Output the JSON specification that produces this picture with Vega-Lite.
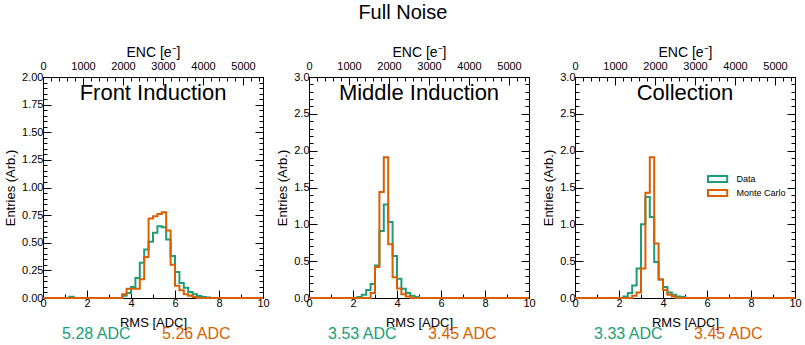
{
  "$schema": "https://vega.github.io/schema/vega-lite/v6.json",
  "datasets": {
    "front": [
      {"series": "Data", "rms": 0, "entries": 0},
      {"series": "Data", "rms": 1.2, "entries": 0.012},
      {"series": "Data", "rms": 1.4, "entries": 0},
      {"series": "Data", "rms": 3.6, "entries": 0.02},
      {"series": "Data", "rms": 3.8, "entries": 0.045},
      {"series": "Data", "rms": 4.0, "entries": 0.10},
      {"series": "Data", "rms": 4.2, "entries": 0.18},
      {"series": "Data", "rms": 4.4, "entries": 0.32},
      {"series": "Data", "rms": 4.6, "entries": 0.44},
      {"series": "Data", "rms": 4.8, "entries": 0.51},
      {"series": "Data", "rms": 5.0, "entries": 0.59},
      {"series": "Data", "rms": 5.2, "entries": 0.65},
      {"series": "Data", "rms": 5.4, "entries": 0.64},
      {"series": "Data", "rms": 5.6, "entries": 0.53},
      {"series": "Data", "rms": 5.8, "entries": 0.38},
      {"series": "Data", "rms": 6.0, "entries": 0.235},
      {"series": "Data", "rms": 6.2, "entries": 0.135},
      {"series": "Data", "rms": 6.4, "entries": 0.093},
      {"series": "Data", "rms": 6.6, "entries": 0.054},
      {"series": "Data", "rms": 6.8, "entries": 0.033},
      {"series": "Data", "rms": 7.0, "entries": 0.018},
      {"series": "Data", "rms": 7.2, "entries": 0.01},
      {"series": "Data", "rms": 7.4, "entries": 0.005},
      {"series": "Data", "rms": 7.6, "entries": 0},
      {"series": "Data", "rms": 10, "entries": 0},
      {"series": "Monte Carlo", "rms": 0, "entries": 0},
      {"series": "Monte Carlo", "rms": 3.6, "entries": 0.033},
      {"series": "Monte Carlo", "rms": 3.8, "entries": 0.084},
      {"series": "Monte Carlo", "rms": 4.0, "entries": 0.084},
      {"series": "Monte Carlo", "rms": 4.2, "entries": 0.084},
      {"series": "Monte Carlo", "rms": 4.4, "entries": 0.17},
      {"series": "Monte Carlo", "rms": 4.6, "entries": 0.37},
      {"series": "Monte Carlo", "rms": 4.8, "entries": 0.72},
      {"series": "Monte Carlo", "rms": 5.0, "entries": 0.74},
      {"series": "Monte Carlo", "rms": 5.2, "entries": 0.76},
      {"series": "Monte Carlo", "rms": 5.4, "entries": 0.775},
      {"series": "Monte Carlo", "rms": 5.6, "entries": 0.61},
      {"series": "Monte Carlo", "rms": 5.8, "entries": 0.30},
      {"series": "Monte Carlo", "rms": 6.0, "entries": 0.11},
      {"series": "Monte Carlo", "rms": 6.2, "entries": 0.07},
      {"series": "Monte Carlo", "rms": 6.4, "entries": 0.035},
      {"series": "Monte Carlo", "rms": 6.6, "entries": 0.02},
      {"series": "Monte Carlo", "rms": 6.8, "entries": 0.008},
      {"series": "Monte Carlo", "rms": 7.0, "entries": 0},
      {"series": "Monte Carlo", "rms": 10, "entries": 0}
    ],
    "middle": [
      {"series": "Data", "rms": 0, "entries": 0},
      {"series": "Data", "rms": 2.2, "entries": 0.013},
      {"series": "Data", "rms": 2.4, "entries": 0.045},
      {"series": "Data", "rms": 2.6, "entries": 0.11},
      {"series": "Data", "rms": 2.8, "entries": 0.19},
      {"series": "Data", "rms": 3.0, "entries": 0.44},
      {"series": "Data", "rms": 3.2, "entries": 0.91},
      {"series": "Data", "rms": 3.4, "entries": 1.27},
      {"series": "Data", "rms": 3.6, "entries": 1.03},
      {"series": "Data", "rms": 3.8, "entries": 0.57},
      {"series": "Data", "rms": 4.0, "entries": 0.26},
      {"series": "Data", "rms": 4.2, "entries": 0.125},
      {"series": "Data", "rms": 4.4, "entries": 0.067},
      {"series": "Data", "rms": 4.6, "entries": 0.03},
      {"series": "Data", "rms": 4.8, "entries": 0.013},
      {"series": "Data", "rms": 5.0, "entries": 0},
      {"series": "Data", "rms": 10, "entries": 0},
      {"series": "Monte Carlo", "rms": 0, "entries": 0},
      {"series": "Monte Carlo", "rms": 2.8, "entries": 0.067},
      {"series": "Monte Carlo", "rms": 3.0, "entries": 0.42},
      {"series": "Monte Carlo", "rms": 3.2, "entries": 1.44},
      {"series": "Monte Carlo", "rms": 3.4, "entries": 1.91},
      {"series": "Monte Carlo", "rms": 3.6, "entries": 0.73},
      {"series": "Monte Carlo", "rms": 3.8, "entries": 0.28},
      {"series": "Monte Carlo", "rms": 4.0, "entries": 0.13},
      {"series": "Monte Carlo", "rms": 4.2, "entries": 0.05},
      {"series": "Monte Carlo", "rms": 4.4, "entries": 0.02},
      {"series": "Monte Carlo", "rms": 4.6, "entries": 0},
      {"series": "Monte Carlo", "rms": 10, "entries": 0}
    ],
    "collection": [
      {"series": "Data", "rms": 0, "entries": 0},
      {"series": "Data", "rms": 2.2, "entries": 0.02},
      {"series": "Data", "rms": 2.4, "entries": 0.067},
      {"series": "Data", "rms": 2.6, "entries": 0.17},
      {"series": "Data", "rms": 2.8, "entries": 0.40},
      {"series": "Data", "rms": 3.0, "entries": 1.00},
      {"series": "Data", "rms": 3.2, "entries": 1.37},
      {"series": "Data", "rms": 3.4, "entries": 1.10},
      {"series": "Data", "rms": 3.6, "entries": 0.49},
      {"series": "Data", "rms": 3.8, "entries": 0.25},
      {"series": "Data", "rms": 4.0, "entries": 0.15},
      {"series": "Data", "rms": 4.2, "entries": 0.076},
      {"series": "Data", "rms": 4.4, "entries": 0.045},
      {"series": "Data", "rms": 4.6, "entries": 0.02},
      {"series": "Data", "rms": 4.8, "entries": 0.013},
      {"series": "Data", "rms": 5.0, "entries": 0},
      {"series": "Data", "rms": 10, "entries": 0},
      {"series": "Monte Carlo", "rms": 0, "entries": 0},
      {"series": "Monte Carlo", "rms": 2.6, "entries": 0.03},
      {"series": "Monte Carlo", "rms": 2.8, "entries": 0.076},
      {"series": "Monte Carlo", "rms": 3.0, "entries": 0.40},
      {"series": "Monte Carlo", "rms": 3.2, "entries": 1.43},
      {"series": "Monte Carlo", "rms": 3.4, "entries": 1.91},
      {"series": "Monte Carlo", "rms": 3.6, "entries": 0.74},
      {"series": "Monte Carlo", "rms": 3.8, "entries": 0.25},
      {"series": "Monte Carlo", "rms": 4.0, "entries": 0.11},
      {"series": "Monte Carlo", "rms": 4.2, "entries": 0.045},
      {"series": "Monte Carlo", "rms": 4.4, "entries": 0.02},
      {"series": "Monte Carlo", "rms": 4.6, "entries": 0},
      {"series": "Monte Carlo", "rms": 10, "entries": 0}
    ]
  },
  "title": {"text": "Full Noise", "fontSize": 20, "anchor": "middle", "offset": 22},
  "padding": {"left": 4, "top": 2, "right": 5, "bottom": 0},
  "spacing": 46,
  "bounds": "flush",
  "hconcat": [
    {
      "width": 220, "height": 221,
      "title": {"text": "Front Induction", "fontSize": 22, "frame": "group", "anchor": "middle", "offset": -60},
      "layer": [
        {
          "data": {"name": "front"},
          "mark": {"type": "line", "interpolate": "step-after", "strokeWidth": 2},
          "encoding": {
            "x": {"field": "rms", "type": "quantitative", "scale": {"domain": [0, 10], "nice": false},
              "axis": {"orient": "bottom", "title": "RMS [ADC]", "format": "d", "values": [0,0.5,1,1.5,2,2.5,3,3.5,4,4.5,5,5.5,6,6.5,7,7.5,8,8.5,9,9.5,10],
                "labelExpr": "datum.value % 2 === 0 ? datum.label : ''",
                "tickSize": {"condition": {"test": "datum.value % 2 === 0", "value": -8}, "value": -4},
                "labelPadding": 7.5, "titlePadding": 4, "labelFlush": false, "labelOverlap": false}},
            "y": {"field": "entries", "type": "quantitative", "scale": {"domain": [0, 2], "nice": false},
              "axis": {"orient": "left", "title": "Entries (Arb.)", "values": [0,0.05,0.1,0.15,0.2,0.25,0.3,0.35,0.4,0.45,0.5,0.55,0.6,0.65,0.7,0.75,0.8,0.85,0.9,0.95,1,1.05,1.1,1.15,1.2,1.25,1.3,1.35,1.4,1.45,1.5,1.55,1.6,1.65,1.7,1.75,1.8,1.85,1.9,1.95,2],
                "labelExpr": "abs(datum.value*4 - round(datum.value*4)) < 0.001 ? format(datum.value, '.2f') : ''",
                "tickSize": {"condition": {"test": "abs(datum.value*4 - round(datum.value*4)) < 0.001", "value": -8}, "value": -4},
                "labelPadding": 8, "titlePadding": 4, "labelFlush": false, "labelOverlap": false}},
            "color": {"field": "series", "type": "nominal", "scale": {"domain": ["Data", "Monte Carlo"], "range": ["#1b9e77", "#d95f02"]}, "legend": null}
          }
        },
        {
          "data": {"values": [{"enc": 0, "entries": 0}, {"enc": 5500, "entries": 2}]},
          "mark": {"type": "point", "opacity": 0},
          "encoding": {
            "x": {"field": "enc", "type": "quantitative", "scale": {"domain": [0, 5500], "nice": false},
              "axis": {"orient": "top", "title": "ENC [e⁻]", "titleFontSize": 14, "format": "d", "values": [0,200,400,600,800,1000,1200,1400,1600,1800,2000,2200,2400,2600,2800,3000,3200,3400,3600,3800,4000,4200,4400,4600,4800,5000,5200,5400],
                "labelExpr": "datum.value % 1000 === 0 ? datum.label : ''",
                "tickSize": {"condition": {"test": "datum.value % 1000 === 0", "value": -8}, "value": -4},
                "labelPadding": 14, "titlePadding": -3, "labelFlush": false, "labelOverlap": false}},
            "y": {"field": "entries", "type": "quantitative", "scale": {"domain": [0, 2], "nice": false},
              "axis": {"orient": "right", "title": null, "labels": false, "values": [0,0.05,0.1,0.15,0.2,0.25,0.3,0.35,0.4,0.45,0.5,0.55,0.6,0.65,0.7,0.75,0.8,0.85,0.9,0.95,1,1.05,1.1,1.15,1.2,1.25,1.3,1.35,1.4,1.45,1.5,1.55,1.6,1.65,1.7,1.75,1.8,1.85,1.9,1.95,2],
                "tickSize": {"condition": {"test": "abs(datum.value*4 - round(datum.value*4)) < 0.001", "value": -8}, "value": -4}}}
          }
        },
        {
          "data": {"values": [{"series": "Data", "mean": "5.28 ADC"}, {"series": "Monte Carlo", "mean": "5.26 ADC"}]},
          "mark": {"type": "point", "opacity": 0},
          "encoding": {
            "x": {"field": "mean", "type": "ordinal", "sort": null, "scale": {"type": "point", "padding": 0.6, "align": 0.44},
              "axis": {"orient": "bottom", "offset": 26, "title": null, "domain": false, "ticks": false, "labelPadding": 1, "labelFontSize": 16, "labelAngle": 0,
                "labelColor": {"condition": {"test": "datum.value === '5.28 ADC'", "value": "#1b9e77"}, "value": "#d95f02"}}}
          }
        }
      ],
      "resolve": {"scale": {"x": "independent"}, "axis": {"x": "independent", "y": "independent"}}
    },
    {
      "width": 220, "height": 221,
      "title": {"text": "Middle Induction", "fontSize": 22, "frame": "group", "anchor": "middle", "offset": -60},
      "layer": [
        {
          "data": {"name": "middle"},
          "mark": {"type": "line", "interpolate": "step-after", "strokeWidth": 2},
          "encoding": {
            "x": {"field": "rms", "type": "quantitative", "scale": {"domain": [0, 10], "nice": false},
              "axis": {"orient": "bottom", "title": "RMS [ADC]", "format": "d", "values": [0,0.5,1,1.5,2,2.5,3,3.5,4,4.5,5,5.5,6,6.5,7,7.5,8,8.5,9,9.5,10],
                "labelExpr": "datum.value % 2 === 0 ? datum.label : ''",
                "tickSize": {"condition": {"test": "datum.value % 2 === 0", "value": -8}, "value": -4},
                "labelPadding": 7.5, "titlePadding": 4, "labelFlush": false, "labelOverlap": false}},
            "y": {"field": "entries", "type": "quantitative", "scale": {"domain": [0, 3], "nice": false},
              "axis": {"orient": "left", "title": "Entries (Arb.)", "values": [0,0.1,0.2,0.3,0.4,0.5,0.6,0.7,0.8,0.9,1,1.1,1.2,1.3,1.4,1.5,1.6,1.7,1.8,1.9,2,2.1,2.2,2.3,2.4,2.5,2.6,2.7,2.8,2.9,3],
                "labelExpr": "abs(datum.value*2 - round(datum.value*2)) < 0.001 ? format(datum.value, '.1f') : ''",
                "tickSize": {"condition": {"test": "abs(datum.value*2 - round(datum.value*2)) < 0.001", "value": -8}, "value": -4},
                "labelPadding": 8, "titlePadding": 4, "labelFlush": false, "labelOverlap": false}},
            "color": {"field": "series", "type": "nominal", "scale": {"domain": ["Data", "Monte Carlo"], "range": ["#1b9e77", "#d95f02"]}, "legend": null}
          }
        },
        {
          "data": {"values": [{"enc": 0, "entries": 0}, {"enc": 5500, "entries": 3}]},
          "mark": {"type": "point", "opacity": 0},
          "encoding": {
            "x": {"field": "enc", "type": "quantitative", "scale": {"domain": [0, 5500], "nice": false},
              "axis": {"orient": "top", "title": "ENC [e⁻]", "titleFontSize": 14, "format": "d", "values": [0,200,400,600,800,1000,1200,1400,1600,1800,2000,2200,2400,2600,2800,3000,3200,3400,3600,3800,4000,4200,4400,4600,4800,5000,5200,5400],
                "labelExpr": "datum.value % 1000 === 0 ? datum.label : ''",
                "tickSize": {"condition": {"test": "datum.value % 1000 === 0", "value": -8}, "value": -4},
                "labelPadding": 14, "titlePadding": -3, "labelFlush": false, "labelOverlap": false}},
            "y": {"field": "entries", "type": "quantitative", "scale": {"domain": [0, 3], "nice": false},
              "axis": {"orient": "right", "title": null, "labels": false, "values": [0,0.1,0.2,0.3,0.4,0.5,0.6,0.7,0.8,0.9,1,1.1,1.2,1.3,1.4,1.5,1.6,1.7,1.8,1.9,2,2.1,2.2,2.3,2.4,2.5,2.6,2.7,2.8,2.9,3],
                "tickSize": {"condition": {"test": "abs(datum.value*2 - round(datum.value*2)) < 0.001", "value": -8}, "value": -4}}}
          }
        },
        {
          "data": {"values": [{"series": "Data", "mean": "3.53 ADC"}, {"series": "Monte Carlo", "mean": "3.45 ADC"}]},
          "mark": {"type": "point", "opacity": 0},
          "encoding": {
            "x": {"field": "mean", "type": "ordinal", "sort": null, "scale": {"type": "point", "padding": 0.6, "align": 0.44},
              "axis": {"orient": "bottom", "offset": 26, "title": null, "domain": false, "ticks": false, "labelPadding": 1, "labelFontSize": 16, "labelAngle": 0,
                "labelColor": {"condition": {"test": "datum.value === '3.53 ADC'", "value": "#1b9e77"}, "value": "#d95f02"}}}
          }
        }
      ],
      "resolve": {"scale": {"x": "independent"}, "axis": {"x": "independent", "y": "independent"}}
    },
    {
      "width": 220, "height": 221,
      "title": {"text": "Collection", "fontSize": 22, "frame": "group", "anchor": "middle", "offset": -60},
      "layer": [
        {
          "data": {"name": "collection"},
          "mark": {"type": "line", "interpolate": "step-after", "strokeWidth": 2},
          "encoding": {
            "x": {"field": "rms", "type": "quantitative", "scale": {"domain": [0, 10], "nice": false},
              "axis": {"orient": "bottom", "title": "RMS [ADC]", "format": "d", "values": [0,0.5,1,1.5,2,2.5,3,3.5,4,4.5,5,5.5,6,6.5,7,7.5,8,8.5,9,9.5,10],
                "labelExpr": "datum.value % 2 === 0 ? datum.label : ''",
                "tickSize": {"condition": {"test": "datum.value % 2 === 0", "value": -8}, "value": -4},
                "labelPadding": 7.5, "titlePadding": 4, "labelFlush": false, "labelOverlap": false}},
            "y": {"field": "entries", "type": "quantitative", "scale": {"domain": [0, 3], "nice": false},
              "axis": {"orient": "left", "title": "Entries (Arb.)", "values": [0,0.1,0.2,0.3,0.4,0.5,0.6,0.7,0.8,0.9,1,1.1,1.2,1.3,1.4,1.5,1.6,1.7,1.8,1.9,2,2.1,2.2,2.3,2.4,2.5,2.6,2.7,2.8,2.9,3],
                "labelExpr": "abs(datum.value*2 - round(datum.value*2)) < 0.001 ? format(datum.value, '.1f') : ''",
                "tickSize": {"condition": {"test": "abs(datum.value*2 - round(datum.value*2)) < 0.001", "value": -8}, "value": -4},
                "labelPadding": 8, "titlePadding": 4, "labelFlush": false, "labelOverlap": false}},
            "color": {"field": "series", "type": "nominal", "scale": {"domain": ["Data", "Monte Carlo"], "range": ["#1b9e77", "#d95f02"]},
              "legend": {"orient": "none", "legendX": 135.6, "legendY": 95, "title": null, "symbolType": "M-1.6,-0.5H1.6V0.5H-1.6Z", "symbolSize": 144, "symbolStrokeWidth": 2, "symbolFillColor": "transparent", "labelFontSize": 9, "labelOffset": 12, "rowPadding": 0, "padding": 0}}
          }
        },
        {
          "data": {"values": [{"enc": 0, "entries": 0}, {"enc": 5500, "entries": 3}]},
          "mark": {"type": "point", "opacity": 0},
          "encoding": {
            "x": {"field": "enc", "type": "quantitative", "scale": {"domain": [0, 5500], "nice": false},
              "axis": {"orient": "top", "title": "ENC [e⁻]", "titleFontSize": 14, "format": "d", "values": [0,200,400,600,800,1000,1200,1400,1600,1800,2000,2200,2400,2600,2800,3000,3200,3400,3600,3800,4000,4200,4400,4600,4800,5000,5200,5400],
                "labelExpr": "datum.value % 1000 === 0 ? datum.label : ''",
                "tickSize": {"condition": {"test": "datum.value % 1000 === 0", "value": -8}, "value": -4},
                "labelPadding": 14, "titlePadding": -3, "labelFlush": false, "labelOverlap": false}},
            "y": {"field": "entries", "type": "quantitative", "scale": {"domain": [0, 3], "nice": false},
              "axis": {"orient": "right", "title": null, "labels": false, "values": [0,0.1,0.2,0.3,0.4,0.5,0.6,0.7,0.8,0.9,1,1.1,1.2,1.3,1.4,1.5,1.6,1.7,1.8,1.9,2,2.1,2.2,2.3,2.4,2.5,2.6,2.7,2.8,2.9,3],
                "tickSize": {"condition": {"test": "abs(datum.value*2 - round(datum.value*2)) < 0.001", "value": -8}, "value": -4}}}
          }
        },
        {
          "data": {"values": [{"series": "Data", "mean": "3.33 ADC"}, {"series": "Monte Carlo", "mean": "3.45 ADC"}]},
          "mark": {"type": "point", "opacity": 0},
          "encoding": {
            "x": {"field": "mean", "type": "ordinal", "sort": null, "scale": {"type": "point", "padding": 0.6, "align": 0.44},
              "axis": {"orient": "bottom", "offset": 26, "title": null, "domain": false, "ticks": false, "labelPadding": 1, "labelFontSize": 16, "labelAngle": 0,
                "labelColor": {"condition": {"test": "datum.value === '3.33 ADC'", "value": "#1b9e77"}, "value": "#d95f02"}}}
          }
        }
      ],
      "resolve": {"scale": {"x": "independent"}, "axis": {"x": "independent", "y": "independent"}}
    }
  ],
  "resolve": {"scale": {"color": "independent"}, "legend": {"color": "independent"}},
  "config": {
    "font": "Liberation Sans",
    "view": {"stroke": "black", "strokeWidth": 1},
    "axis": {"domainColor": "black", "tickColor": "black", "labelColor": "black", "titleColor": "black", "grid": false, "labelFontSize": 11, "titleFontSize": 13, "titleFontWeight": "normal", "tickWidth": 1, "domainWidth": 1},
    "title": {"fontWeight": "normal", "color": "black"},
    "legend": {"labelColor": "black"}
  }
}
